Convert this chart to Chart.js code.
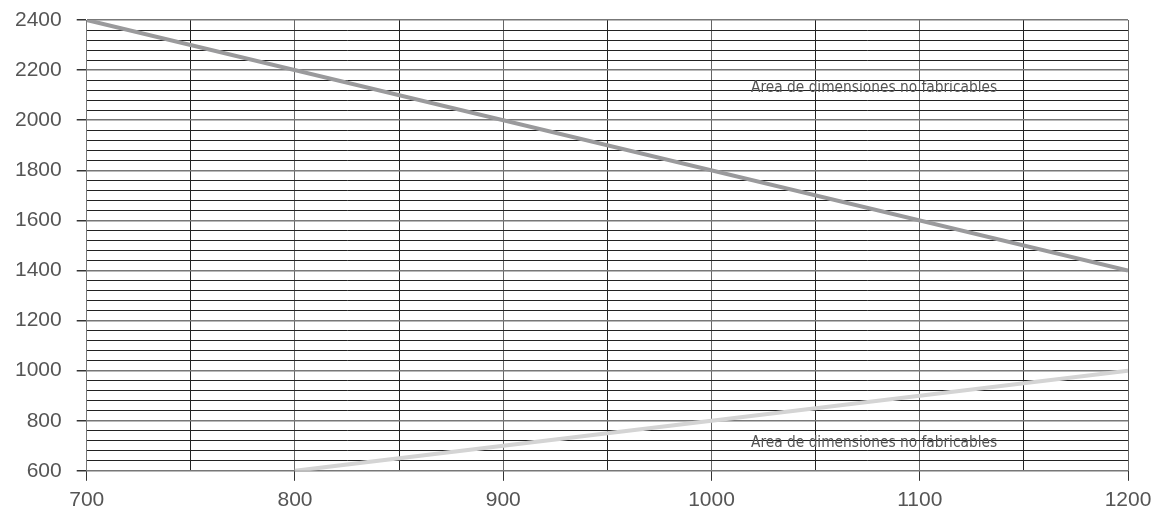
<!DOCTYPE html>
<html>
<head>
<meta charset="utf-8">
<script src="https://cdn.jsdelivr.net/npm/chart.js@4/dist/chart.umd.min.js"></script>
<style>
  html, body { margin: 0; padding: 0; background: #fff; }
  #wrap { width: 1155px; height: 524px; }
</style>
</head>
<body>
<div id="wrap"><canvas id="chart"></canvas></div>
<script>
// limite superior
var upperX = [700, 1200];
var upperY = [2400, 1400];
// limite inferior
var lowerX = [800, 1200];
var lowerY = [600, 1000];

var xMin = 700, xMax = 1200, xStep = 50;
var yMin = 600, yMax = 2400, yStep = 40;

var labelText = 'Area de dimensiones no fabricables';
var labelX = [1019, 1019];
var labelY = [2128, 712];

function toPoints(xs, ys) {
	var pts = [];
	for (var i = 0; i < xs.length; i++) {
		pts.push({x: xs[i], y: ys[i]});
	}
	return pts;
}

// Dibuja los textos de las areas no fabricables
var areaLabels = {
	id: 'areaLabels',
	afterDatasetsDraw: function(chart) {
		var ctx = chart.ctx;
		var sx = chart.scales.x, sy = chart.scales.y;
		ctx.save();
		ctx.font = '15.3px "Liberation Sans Narrow", "DejaVu Sans Condensed", sans-serif';
		ctx.fillStyle = '#555';
		ctx.textAlign = 'left';
		ctx.textBaseline = 'middle';
		for (var i = 0; i < labelX.length; i++) {
			ctx.fillText(labelText, sx.getPixelForValue(labelX[i]), sy.getPixelForValue(labelY[i]));
		}
		ctx.restore();
	}
};

var tickFont = {family: '"Liberation Sans", Arial, sans-serif', size: 21};

function isMajor(c, step) {
	return c.tick && c.tick.value % step === 0;
}

// El area del grafico la fija solo el padding del layout
function noOverhang(scale) {
	scale.paddingTop = 0;
	scale.paddingBottom = 0;
	scale.paddingLeft = 0;
	scale.paddingRight = 0;
}

new Chart(document.getElementById('chart'), {
	type: 'line',
	data: {
		datasets: [
			{data: toPoints(upperX, upperY), borderColor: '#9a9a9c', borderWidth: 4, pointRadius: 0, fill: false},
			{data: toPoints(lowerX, lowerY), borderColor: '#d4d4d4', borderWidth: 4, pointRadius: 0, fill: false}
		]
	},
	plugins: [areaLabels],
	options: {
		responsive: true,
		maintainAspectRatio: false,
		animation: false,
		layout: {padding: {top: 20, right: 27, left: 0, bottom: 4}},
		plugins: {legend: {display: false}, tooltip: {enabled: false}},
		scales: {
			x: {
				type: 'linear', min: xMin, max: xMax,
				afterFit: noOverhang,
				border: {color: '#777', width: 1},
				ticks: {
					stepSize: xStep, color: '#555', font: tickFont, padding: 7, maxRotation: 0,
					autoSkip: false,
					callback: function(v) { return v % 100 === 0 ? v : ''; }
				},
				grid: {
					tickLength: 10,
					color: function(c) { return isMajor(c, 100) ? '#666' : '#222'; },
					tickColor: function(c) { return isMajor(c, 100) ? '#333' : 'rgba(0,0,0,0)'; },
					lineWidth: 1
				}
			},
			y: {
				type: 'linear', min: yMin, max: yMax,
				afterFit: noOverhang,
				border: {color: '#777', width: 1},
				ticks: {
					stepSize: yStep, color: '#555', font: tickFont, padding: 15,
					autoSkip: false,
					callback: function(v) { return v % 200 === 0 ? v : ''; }
				},
				grid: {
					tickLength: 10,
					color: function(c) { return isMajor(c, 200) ? '#777' : '#222'; },
					lineWidth: function(c) { return isMajor(c, 200) ? 1.5 : 1; },
					tickColor: function(c) { return isMajor(c, 200) ? '#333' : 'rgba(0,0,0,0)'; }
				}
			}
		}
	}
});
</script>
</body>
</html>
